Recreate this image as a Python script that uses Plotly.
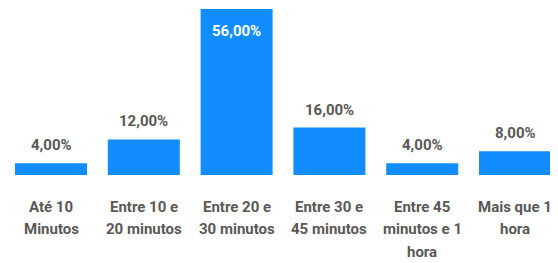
import plotly.graph_objects as go

categories = ["Até 10 Minutos", "Entre 10 e 20 minutos", "Entre 20 e 30 minutos",
              "Entre 30 e 45 minutos", "Entre 45 minutos e 1 hora", "Mais que 1 hora"]
label_lines = [["Até 10", "Minutos"], ["Entre 10 e", "20 minutos"], ["Entre 20 e", "30 minutos"],
               ["Entre 30 e", "45 minutos"], ["Entre 45", "minutos e 1", "hora"], ["Mais que 1", "hora"]]
values = [4, 12, 56, 16, 4, 8]

BAR = "#118DFF"
TXT = "#5A5856"
FONT = "Roboto"

xs = list(range(len(categories)))
fig = go.Figure(go.Bar(x=xs, y=values, marker=dict(color=BAR, line=dict(width=0)),
                       width=0.776, hoverinfo="skip"))

ymax = 56
anns = []
for i, v in enumerate(values):
    txt = f"{v:.2f}".replace(".", ",") + "%"
    inside = v >= ymax * 0.9
    anns.append(dict(x=i, y=v, xref="x", yref="y", text=txt, showarrow=False,
                     yanchor="middle", yshift=-22 if inside else 18,
                     font=dict(family=FONT, size=15, color="white" if inside else TXT, weight="bold")))
    for j, line in enumerate(label_lines[i]):
        anns.append(dict(x=i, y=0, xref="x", yref="paper", text=line, showarrow=False,
                         yanchor="middle", yshift=-31.5 - 22.5 * j,
                         font=dict(family=FONT, size=15, color=TXT, weight="bold")))

fig.update_layout(
    width=550, height=255,
    margin=dict(l=0, r=0, t=1, b=88),
    paper_bgcolor="white", plot_bgcolor="white",
    showlegend=False,
    annotations=anns,
    xaxis=dict(range=[-0.4634, 5.463], showticklabels=False, showgrid=False,
               zeroline=False, showline=False, ticks=""),
    yaxis=dict(range=[0, ymax], visible=False, showgrid=False, zeroline=False),
)
fig.write_html("out.html")
